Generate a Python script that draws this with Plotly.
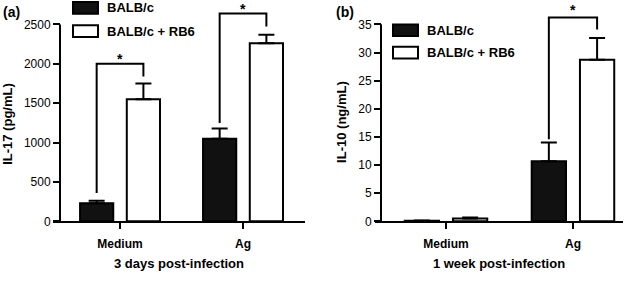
import plotly.graph_objects as go

W, H = 642, 281

categories = ["Medium", "Ag"]
series_names = ["BALB/c", "BALB/c + RB6"]

# Panel (a): IL-17 (pg/mL), 3 days post-infection
il17_balbc = [230, 1050]
il17_balbc_err = [30, 130]
il17_rb6 = [1550, 2260]
il17_rb6_err = [200, 110]

# Panel (b): IL-10 (ng/mL), 1 week post-infection
il10_balbc = [0.1, 10.7]
il10_balbc_err = [0.05, 3.3]
il10_rb6 = [0.5, 28.7]
il10_rb6_err = [0.2, 3.9]

# significance brackets: [left leg bottom, top, right leg bottom, star y]
brackets_a = {"Medium": [360, 2000, 1840, 2060], "Ag": [1250, 2640, 2475, 2700]}
brackets_b = {"Ag": [14.6, 36.2, 34.1, 37.6]}

a_ticks = [0, 500, 1000, 1500, 2000, 2500]
b_ticks = [0, 5, 10, 15, 20, 25, 30, 35]

FONT = "Liberation Sans, Arial, sans-serif"
OFFS = 0.19
BW = 0.27

fig = go.Figure()


def add_bars(vals, errs, xa, ya, color, offset):
    fig.add_trace(go.Bar(
        x=categories, y=vals, xaxis=xa, yaxis=ya,
        width=BW, offset=offset - BW / 2,
        marker=dict(color=color, line=dict(color="black", width=2)),
        error_y=dict(type="data", array=errs, arrayminus=[0] * len(errs),
                     symmetric=False, color="black", thickness=2, width=8),
        showlegend=False,
    ))


add_bars(il17_balbc, il17_balbc_err, "x", "y", "#111111", -OFFS)
add_bars(il17_rb6, il17_rb6_err, "x", "y", "white", OFFS)
add_bars(il10_balbc, il10_balbc_err, "x2", "y2", "#111111", -OFFS)
add_bars(il10_rb6, il10_rb6_err, "x2", "y2", "white", OFFS)

shapes = []
annotations = []


def bracket(xref, yref, cat, vals):
    idx = categories.index(cat)
    y0, ytop, y1, ystar = vals
    xl, xr = idx - OFFS, idx + OFFS
    shapes.append(dict(type="path", xref=xref, yref=yref,
                       path=f"M {xl},{y0} L {xl},{ytop} L {xr},{ytop} L {xr},{y1}",
                       line=dict(color="black", width=2)))
    annotations.append(dict(x=idx, y=ystar, xref=xref, yref=yref, text="<b>*</b>",
                            showarrow=False, font=dict(family=FONT, size=14, color="black")))


for k, v in brackets_a.items():
    bracket("x", "y", k, v)
for k, v in brackets_b.items():
    bracket("x2", "y2", k, v)

# y axis lines up to the top tick
shapes.append(dict(type="line", xref="paper", yref="y", x0=60 / W, x1=60 / W, y0=0, y1=a_ticks[-1],
                   line=dict(color="black", width=2)))
shapes.append(dict(type="line", xref="paper", yref="y2", x0=381 / W, x1=381 / W, y0=0, y1=b_ticks[-1],
                   line=dict(color="black", width=2)))


def legend(x0, ytop, gap):
    for i, (name, col) in enumerate(zip(series_names, ["#111111", "white"])):
        yt = ytop + i * gap
        shapes.append(dict(type="rect", xref="paper", yref="paper",
                           x0=x0 / W, x1=(x0 + 25) / W, y0=1 - (yt + 12) / H, y1=1 - yt / H,
                           fillcolor=col, line=dict(color="black", width=2)))
        annotations.append(dict(x=(x0 + 32) / W, y=1 - (yt + 6) / H, xref="paper", yref="paper",
                                text=f"<b>{name}</b>", showarrow=False, xanchor="left", yanchor="middle",
                                font=dict(family=FONT, size=13, color="black")))


legend(73, 2, 24)
legend(393, 25, 23)

annotations.append(dict(x=1 / W, y=1 - 12 / H, xref="paper", yref="paper", text="<b>(a)</b>",
                        showarrow=False, xanchor="left", yanchor="middle",
                        font=dict(family=FONT, size=14, color="black")))
annotations.append(dict(x=334 / W, y=1 - 12 / H, xref="paper", yref="paper", text="<b>(b)</b>",
                        showarrow=False, xanchor="left", yanchor="middle",
                        font=dict(family=FONT, size=14, color="black")))

# y-axis titles
annotations.append(dict(x=8 / W, y=1 - 127 / H, xref="paper", yref="paper", text="<b>IL-17 (pg/mL)</b>",
                        showarrow=False, textangle=-90, xanchor="center", yanchor="middle",
                        font=dict(family=FONT, size=13, color="black")))
annotations.append(dict(x=342 / W, y=1 - 125 / H, xref="paper", yref="paper", text="<b>IL-10 (ng/mL)</b>",
                        showarrow=False, textangle=-90, xanchor="center", yanchor="middle",
                        font=dict(family=FONT, size=13, color="black")))

tickfont = dict(family=FONT, size=12, color="black")
titlefont = dict(family=FONT, size=13, color="black")

ybot = 1 - 227 / H
xa_common = dict(type="category", showline=True, linewidth=2, linecolor="black", ticks="outside",
                 ticklen=6, tickwidth=2, tickcolor="black", tickfont=tickfont, showgrid=False,
                 zeroline=False, tickprefix="<b>", ticksuffix="</b>", ticklabelstandoff=4)
ya_common = dict(showline=False, ticks="outside", ticklen=7, tickwidth=2, tickcolor="black",
                 tickfont=tickfont, showgrid=False, zeroline=False, anchor="free",
                 domain=[ybot, 1], tickprefix="<b>", ticksuffix="</b>")

fig.update_layout(
    width=W, height=H, margin=dict(l=0, r=0, t=0, b=0),
    paper_bgcolor="white", plot_bgcolor="white",
    font=dict(family=FONT, color="black"),
    xaxis=dict(xa_common, domain=[53 / W, 305 / W], range=[-0.545, 1.504], anchor="y",
               title=dict(text="<b>3 days post-infection</b>", font=titlefont, standoff=9)),
    yaxis=dict(ya_common, range=[0, 2810], position=60 / W, tickvals=a_ticks),
    xaxis2=dict(xa_common, domain=[375 / W, 623 / W], range=[-0.559, 1.394], anchor="y2",
                title=dict(text="<b>1 week post-infection</b>", font=titlefont, standoff=9)),
    yaxis2=dict(ya_common, range=[0, 39.33], position=381 / W, tickvals=b_ticks),
    shapes=shapes, annotations=annotations,
)

fig.write_html("out.html", config={"displayModeBar": False},
               post_script="document.body.style.margin='0';document.body.style.overflow='hidden';")
